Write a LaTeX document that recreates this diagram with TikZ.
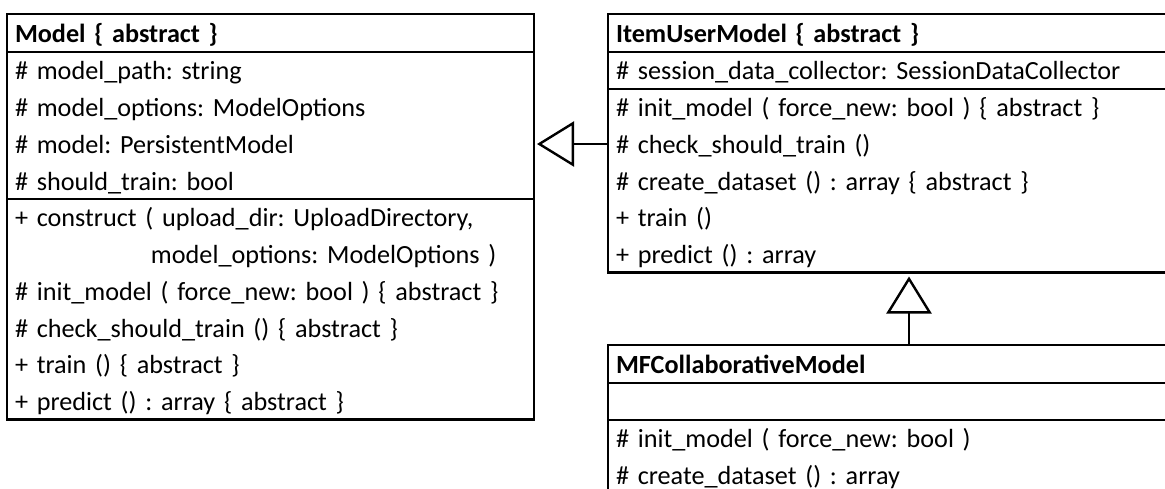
\documentclass[tikz,border=0pt]{standalone}
\usepackage{fontspec}
\setmainfont{Carlito}
\usetikzlibrary{arrows.meta,positioning}
\newcommand{\rowstrut}{\rule[-9pt]{0pt}{36.75pt}}

\begin{document}
\frenchspacing
\begin{tikzpicture}[x=1pt, y=-1pt, line width=2.4pt,
  every node/.style={font=\fontsize{26.2}{36.75}\selectfont},
  umlpart/.style={draw, anchor=north west, align=left, outer sep=0pt, inner xsep=8pt, inner ysep=0pt, text width=#1},
  umltitle/.style={minimum height=38pt, font=\fontsize{26.2}{36.75}\selectfont\bfseries},
  inherit/.style={-{Triangle[open, length=37pt, width=45pt]}, shorten >=3pt}]
\path[use as bounding box, fill=white] (0,0) rectangle (1165,488);

% Model
\node[umlpart=511pt, umltitle] (mo-t) at (7,14) {\rowstrut Model \{ abstract \}};
\node[umlpart=511pt] (mo-a) at (mo-t.south west) {\rowstrut\# model\_path: string\\ \# model\_options: ModelOptions\\ \# model: PersistentModel\\ \# should\_train: bool\rowstrut};
\node[umlpart=511pt] (mo-m) at (mo-a.south west) {\rowstrut+ construct ( upload\_dir: UploadDirectory,\\ \hspace*{136pt}model\_options: ModelOptions )\\ \# init\_model ( force\_new: bool ) \{ abstract \}\\ \# check\_should\_train () \{ abstract \}\\ + train () \{ abstract \}\\ + predict () : array \{ abstract \}\rowstrut};

% ItemUserModel
\node[umlpart=584pt, umltitle] (iu-t) at (608,14) {\rowstrut ItemUserModel \{ abstract \}};
\node[umlpart=584pt] (iu-a) at (iu-t.south west) {\rowstrut\# session\_data\_collector: SessionDataCollector\rowstrut};
\node[umlpart=584pt] (iu-m) at (iu-a.south west) {\rowstrut\# init\_model ( force\_new: bool ) \{ abstract \}\\ \# check\_should\_train ()\\ \# create\_dataset () : array \{ abstract \}\\ + train ()\\ + predict () : array\rowstrut};

% MFCollaborativeModel
\node[umlpart=584pt, umltitle] (mf-t) at (608,345) {\rowstrut MFCollaborativeModel};
\node[umlpart=584pt, minimum height=36.75pt] (mf-a) at (mf-t.south west) {};
\node[umlpart=584pt] (mf-m) at (mf-a.south west) {\rowstrut\# init\_model ( force\_new: bool )\\ \# create\_dataset () : array\rowstrut};

% inheritance
\coordinate (link) at (0,144);
\coordinate (up) at (909,0);
\draw[inherit] (iu-m.west |- link) -- (mo-a.east |- link);
\draw[inherit, shorten >=4pt] (mf-t.north -| up) -- (iu-m.south -| up);
\end{tikzpicture}
\end{document}
